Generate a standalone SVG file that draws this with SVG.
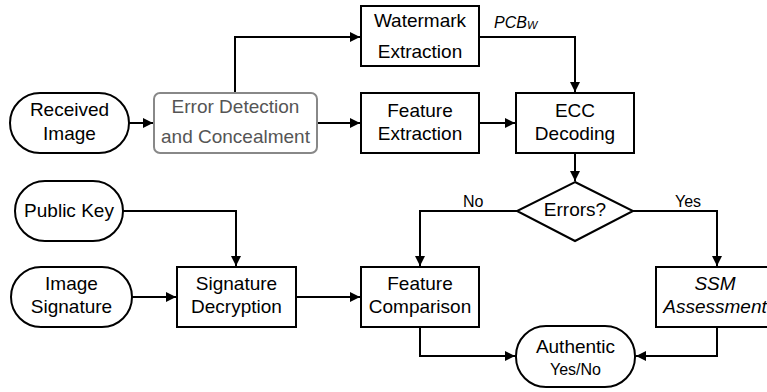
<svg xmlns="http://www.w3.org/2000/svg" width="767" height="392" viewBox="0 0 767 392">
<style>
.n{fill:#fff;stroke:#000;stroke-width:2}
.g{fill:#fff;stroke:#888;stroke-width:2}
.c{fill:none;stroke:#000;stroke-width:2}
text{font-family:"Liberation Sans",Arial,sans-serif;font-size:19px;fill:#000;text-anchor:middle}
.gt{fill:#555}
.i{font-style:italic}
.s{font-size:16px}
.l{font-size:16px;text-anchor:start}
</style>
<defs>
<marker id="ah" markerUnits="userSpaceOnUse" markerWidth="12" markerHeight="12" refX="10" refY="5" orient="auto">
<path d="M0,0 L10,5 L0,10 Z" fill="#000"/>
</marker>
</defs>
<g id="connectors">
<path class="c" d="M129,123 H153" marker-end="url(#ah)"/>
<path class="c" d="M235,93 V37 H360" marker-end="url(#ah)"/>
<path class="c" d="M317,123 H360" marker-end="url(#ah)"/>
<path class="c" d="M479,123 H515" marker-end="url(#ah)"/>
<path class="c" d="M479,37 H575 V92" marker-end="url(#ah)"/>
<path class="c" d="M575,153 V181" marker-end="url(#ah)"/>
<path class="c" d="M517,211 H420 V266" marker-end="url(#ah)"/>
<path class="c" d="M633,211 H717 V266" marker-end="url(#ah)"/>
<path class="c" d="M123,211 H236 V266" marker-end="url(#ah)"/>
<path class="c" d="M132,297 H176" marker-end="url(#ah)"/>
<path class="c" d="M296,297 H360" marker-end="url(#ah)"/>
<path class="c" d="M420,327 V356 H515" marker-end="url(#ah)"/>
<path class="c" d="M717,327 V356 H636" marker-end="url(#ah)"/>
<text class="l i" x="494" y="28">PCB<tspan style="font-size:11px" dy="1">W</tspan></text>
<text class="l" x="463" y="207">No</text>
<text class="l" x="675" y="207">Yes</text>
</g>
<g id="received-image">
<rect class="n" x="10" y="93" width="119" height="60" rx="30"/>
<text x="69.5" y="116">Received</text>
<text x="69.5" y="140">Image</text>
</g>
<g id="error-detection">
<rect class="g" x="154" y="93" width="163" height="60" rx="6"/>
<text class="gt" x="235.5" y="113">Error Detection</text>
<text class="gt" x="235.5" y="143">and Concealment</text>
</g>
<g id="watermark-extraction">
<rect class="n" x="361" y="6" width="118" height="60"/>
<text x="420" y="27">Watermark</text>
<text x="420" y="58">Extraction</text>
</g>
<g id="feature-extraction">
<rect class="n" x="361" y="93" width="118" height="60"/>
<text x="420" y="117">Feature</text>
<text x="420" y="140">Extraction</text>
</g>
<g id="ecc-decoding">
<rect class="n" x="516" y="93" width="118" height="60"/>
<text x="575" y="117">ECC</text>
<text x="575" y="140">Decoding</text>
</g>
<g id="errors">
<path class="n" d="M575,182 L633,211 L575,241 L517,211 Z"/>
<text x="575" y="216">Errors?</text>
</g>
<g id="public-key">
<rect class="n" x="15" y="181" width="108" height="60" rx="30"/>
<text x="69" y="217">Public Key</text>
</g>
<g id="image-signature">
<rect class="n" x="11" y="267" width="121" height="60" rx="30"/>
<text x="71.5" y="290">Image</text>
<text x="71.5" y="313">Signature</text>
</g>
<g id="signature-decryption">
<rect class="n" x="177" y="267" width="119" height="60"/>
<text x="236.5" y="290">Signature</text>
<text x="236.5" y="313">Decryption</text>
</g>
<g id="feature-comparison">
<rect class="n" x="361" y="267" width="118" height="60"/>
<text x="420" y="290">Feature</text>
<text x="420" y="313">Comparison</text>
</g>
<g id="ssm-assessment">
<rect class="n" x="656" y="267" width="118" height="60"/>
<text class="i" x="715" y="290">SSM</text>
<text class="i" x="715" y="313">Assessment</text>
</g>
<g id="authentic">
<rect class="n" x="516" y="326" width="119" height="61" rx="30"/>
<text x="575.5" y="353">Authentic</text>
<text class="s" x="575.5" y="375">Yes/No</text>
</g>
</svg>
